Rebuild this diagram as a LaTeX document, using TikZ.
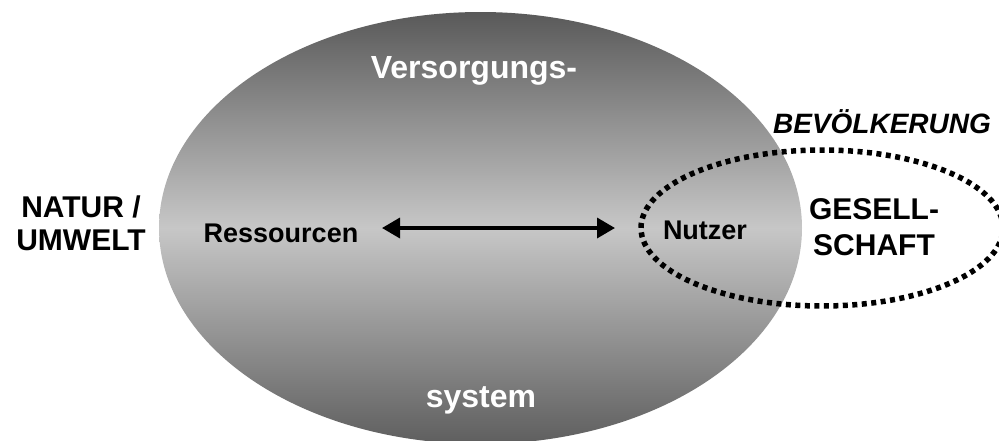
\documentclass[tikz,border=0pt]{standalone}
\usepackage{fontspec}
\setmainfont{Liberation Sans}
\usetikzlibrary{arrows.meta}
\definecolor{topc}{gray}{0.35}
\definecolor{midc}{gray}{0.78}
\definecolor{botc}{gray}{0.37}
\begin{document}
\begin{tikzpicture}[x=1pt,y=-1pt,
  lbl/.style={inner sep=0pt, align=center, text=black},
  big/.style={font=\bfseries\fontsize{32}{36}\selectfont},
  mid/.style={font=\bfseries\fontsize{30}{33}\selectfont},
  small/.style={font=\bfseries\fontsize{27}{30}\selectfont},
  dotring/.style={line width=5.5pt, dash pattern=on 5pt off 4.5pt},
  link/.style={line width=3.5pt, {Triangle[length=18pt,width=20pt]}-{Triangle[length=18pt,width=20pt]}}]
\useasboundingbox (0,0) rectangle (999,440);
% big shaded ellipse
\shade[top color=topc, bottom color=botc, middle color=midc]
  (480.5,228) ellipse [x radius=321.5pt, y radius=216pt];
% dotted ellipse
\draw[dotring] (822,228) ellipse [x radius=181pt, y radius=78pt];
% texts
\node[lbl, big, text=white, anchor=base] (vers) at (474,78) {Versorgungs-};
\node[lbl, big, text=white, anchor=base] (sys) at (481,407) {system};
\node[lbl, small, anchor=base] (res) at (281,242) {Ressourcen};
\node[lbl, small, anchor=base] (nutz) at (705,239) {Nutzer};
\node[lbl, mid, anchor=center] (natur) at (81,223.5) {NATUR /\\UMWELT};
\node[lbl, mid, anchor=center, font=\bfseries\fontsize{30}{36}\selectfont] (ges) at (874,227) {GESELL-\\SCHAFT};
\node[lbl, font=\bfseries\itshape\fontsize{28}{32}\selectfont, anchor=base] (bev) at (882,133) {BEVÖLKERUNG};
% arrow
\coordinate (al) at (382,228);
\coordinate (ar) at (615,228);
\draw[link] (al) -- (ar);
\end{tikzpicture}
\end{document}
